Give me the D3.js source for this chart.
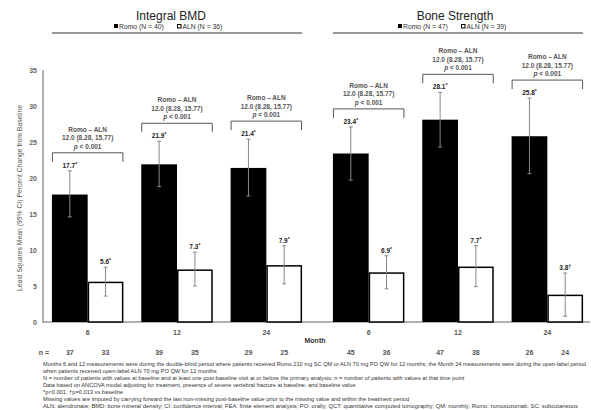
<!DOCTYPE html>
<html><head><meta charset="utf-8">
<script src="https://cdn.jsdelivr.net/npm/d3@7"></script>
<style>
html,body{margin:0;padding:0;background:#fff;}
svg{display:block;font-family:"Liberation Sans",Arial,sans-serif;}
</style></head>
<body><svg id="c" width="591" height="410"></svg>
<script>
// ---------- data ----------
const panels = ["Integral BMD", "Bone Strength"];
const months = ["6", "12", "24"];
const series = ["Romo", "ALN"];
const legendN = [[40, 36], [47, 39]];
const romoValues = [17.7, 21.9, 21.4, 23.4, 28.1, 25.8];
const romoLow    = [14.6, 18.8, 17.5, 19.7, 24.3, 20.6];
const romoHigh   = [21.0, 25.1, 25.4, 27.1, 31.9, 31.1];
const alnValues  = [5.6, 7.3, 7.9, 6.9, 7.7, 3.8];
const alnLow     = [3.6, 5.0, 5.3, 4.6, 4.9, 0.8];
const alnHigh    = [7.6, 9.7, 10.6, 9.2, 10.6, 6.8];
const romoMarks  = ["*", "*", "*", "*", "*", "*"];
const alnMarks   = ["*", "*", "*", "*", "*", "†"];
const romoN = [37, 39, 29, 45, 47, 26];
const alnN  = [33, 35, 25, 36, 38, 24];
const diffLabel = "Romo – ALN";
const diffValue = "12.0 (8.28, 15.77)";
const diffP = "< 0.001";
const yTicks = [0, 5, 10, 15, 20, 25, 30, 35];
const yTitle = "Least Squares Mean (95% CI) Percent Change from Baseline";
const xTitle = "Month";
const footnotes = [
  "Months 6 and 12 measurements were during the double-blind period where patients received Romo 210 mg SC QM or ALN 70 mg PO QW for 12 months; the Month 24 measurements were during the open-label period",
  "when patients received open-label ALN 70 mg PO QW for 12 months",
  "N = number of patients with values at baseline and at least one post-baseline visit at or before the primary analysis; n = number of patients with values at that time point",
  "Data based on ANCOVA model adjusting for treatment, presence of severe vertebral fracture at baseline, and baseline value",
  "*p<0.001, †p=0.013 vs baseline",
  "Missing values are imputed by carrying forward the last non-missing post-baseline value prior to the missing value and within the treatment period",
  "ALN: alendronate; BMD: bone mineral density; CI: confidence interval; FEA: finite element analysis; PO: orally; QCT: quantitative computed tomography; QM: monthly; Romo: romosozumab; SC: subcutaneous"
];

// ---------- build ----------
const svg = d3.select("#c");
const y = d3.scaleLinear().domain([0, 35]).range([322, 70]);
const panelRanges = [[43, 311], [324, 592]];
const xs = panelRanges.map(r => d3.scaleBand().domain(months).range(r).paddingInner(0.2).paddingOuter(0.1));
const xin = d3.scaleBand().domain(series).range([0, xs[0].bandwidth()]);

const groups = [];
panels.forEach((p, pi) => months.forEach((m, mi) => {
  const i = pi * 3 + mi;
  groups.push({pi, m, x0: xs[pi](m),
    bars: [
      {s: "Romo", v: romoValues[i], lo: romoLow[i], hi: romoHigh[i], mk: romoMarks[i], n: romoN[i]},
      {s: "ALN", v: alnValues[i], lo: alnLow[i], hi: alnHigh[i], mk: alnMarks[i], n: alnN[i]}
    ]});
}));

// axes
svg.append("line").attr("x1", 43).attr("x2", 43).attr("y1", y(35)).attr("y2", y(0))
  .attr("stroke", "#999").attr("stroke-width", 1.5);
svg.append("line").attr("x1", 42).attr("x2", 590).attr("y1", y(0)).attr("y2", y(0))
  .attr("stroke", "#999").attr("stroke-width", 1.5);
svg.selectAll(".yt").data(yTicks).join("text")
  .attr("x", 37).attr("y", d => y(d) + 2.5).attr("text-anchor", "end")
  .attr("font-size", 7).attr("font-weight", "bold").attr("fill", "#666").text(d => d);
svg.append("text").attr("transform", "translate(22,198) rotate(-90)")
  .attr("text-anchor", "middle").attr("font-size", 6.8).attr("fill", "#555").text(yTitle);

// bars
const g = svg.selectAll(".grp").data(groups).join("g").attr("transform", d => `translate(${d.x0},0)`);
g.selectAll("rect").data(d => d.bars).join("rect")
  .attr("x", d => xin(d.s) + (d.s === "ALN" ? 0.75 : 0))
  .attr("y", d => y(d.v) + (d.s === "ALN" ? 0.75 : 0))
  .attr("width", d => xin.bandwidth() - (d.s === "ALN" ? 1.5 : 0))
  .attr("height", d => y(0) - y(d.v) - (d.s === "ALN" ? 0.75 : 0))
  .attr("fill", d => d.s === "Romo" ? "#000" : "#fff")
  .attr("stroke", d => d.s === "Romo" ? "none" : "#000")
  .attr("stroke-width", 1.5);
// error bars
const eb = g.selectAll(".eb").data(d => d.bars).join("g");
eb.append("line").attr("x1", d => xin(d.s) + xin.bandwidth() / 2).attr("x2", d => xin(d.s) + xin.bandwidth() / 2)
  .attr("y1", d => y(d.lo)).attr("y2", d => y(d.hi)).attr("stroke", "#888").attr("stroke-width", 1);
["lo", "hi"].forEach(k => eb.append("line")
  .attr("x1", d => xin(d.s) + xin.bandwidth() / 2 - 2).attr("x2", d => xin(d.s) + xin.bandwidth() / 2 + 2)
  .attr("y1", d => y(d[k])).attr("y2", d => y(d[k])).attr("stroke", "#888").attr("stroke-width", 1));
// value labels
const vl = eb.append("text").attr("x", d => xin(d.s) + xin.bandwidth() / 2).attr("y", d => y(d.hi) - 3)
  .attr("text-anchor", "middle").attr("font-size", 6.5).attr("font-weight", "bold").attr("fill", "#222");
vl.append("tspan").text(d => d.v.toFixed(1));
vl.append("tspan").attr("dy", -2).attr("font-size", 5).text(d => d.mk);

// brackets
g.each(function(d) {
  const gg = d3.select(this);
  const top = y(d3.max(d.bars, b => b.hi)) - 18;
  const w = xs[0].bandwidth();
  gg.append("path").attr("d", `M0.5,${top + 9}V${top}H${w - 0.5}V${top + 9}`)
    .attr("fill", "none").attr("stroke", "#555").attr("stroke-width", 1);
  const t = gg.append("g").attr("font-size", 6.5).attr("font-weight", "bold").attr("fill", "#555").attr("text-anchor", "middle");
  t.append("text").attr("x", w / 2).attr("y", top - 21).text(diffLabel);
  t.append("text").attr("x", w / 2).attr("y", top - 12.5).text(diffValue);
  const pt = t.append("text").attr("x", w / 2).attr("y", top - 4);
  pt.append("tspan").attr("font-style", "italic").text("p");
  pt.append("tspan").text(" " + diffP);
});

// month labels
g.append("text").attr("x", xs[0].bandwidth() / 2).attr("y", 335).attr("text-anchor", "middle")
  .attr("font-size", 7).attr("font-weight", "bold").attr("fill", "#555").text(d => d.m);
svg.append("text").attr("x", 315).attr("y", 343).attr("text-anchor", "middle")
  .attr("font-size", 7).attr("font-weight", "bold").attr("fill", "#333").text(xTitle);
// n row
svg.append("text").attr("x", 44).attr("y", 355).attr("text-anchor", "middle")
  .attr("font-size", 7).attr("font-weight", "bold").attr("fill", "#555").text("n =");
g.selectAll(".n").data(d => d.bars).join("text")
  .attr("x", d => xin(d.s) + xin.bandwidth() / 2).attr("y", 355).attr("text-anchor", "middle")
  .attr("font-size", 7).attr("font-weight", "bold").attr("fill", "#555").text(d => d.n);

// panel headers
panels.forEach((p, pi) => {
  const x0 = xs[pi](months[0]), x1 = xs[pi](months[2]) + xs[pi].bandwidth();
  const cx = pi === 0 ? 171 : 455;
  svg.append("text").attr("x", cx).attr("y", 20).attr("text-anchor", "middle")
    .attr("font-size", 12).attr("fill", "#222").text(p);
  const lg = svg.append("g").attr("font-size", 6.8).attr("fill", "#333");
  const lx = cx - 57;
  lg.append("rect").attr("x", lx).attr("y", 24).attr("width", 4).attr("height", 4).attr("fill", "#000");
  lg.append("text").attr("x", lx + 5).attr("y", 28.5).text(`Romo (N = ${legendN[pi][0]})`);
  lg.append("rect").attr("x", lx + 63.5).attr("y", 24.5).attr("width", 3.5).attr("height", 3.5)
    .attr("fill", "#fff").attr("stroke", "#000").attr("stroke-width", 1);
  lg.append("text").attr("x", lx + 68.5).attr("y", 28.5).text(`ALN (N = ${legendN[pi][1]})`);
  svg.append("line").attr("x1", x0).attr("x2", x1).attr("y1", 33).attr("y2", 33)
    .attr("stroke", "#777").attr("stroke-width", 1.5);
});

// footnotes
const fnWidths = {0: 543, 6: 535};
svg.selectAll(".fn").data(footnotes).join("text")
  .attr("x", 43).attr("y", (d, i) => 366 + i * 7)
  .attr("font-size", 5.7).attr("fill", "#333")
  .each(function(d, i) {
    if (fnWidths[i]) d3.select(this).attr("textLength", fnWidths[i]).attr("lengthAdjust", "spacingAndGlyphs");
  })
  .text(d => d);
</script></body></html>
